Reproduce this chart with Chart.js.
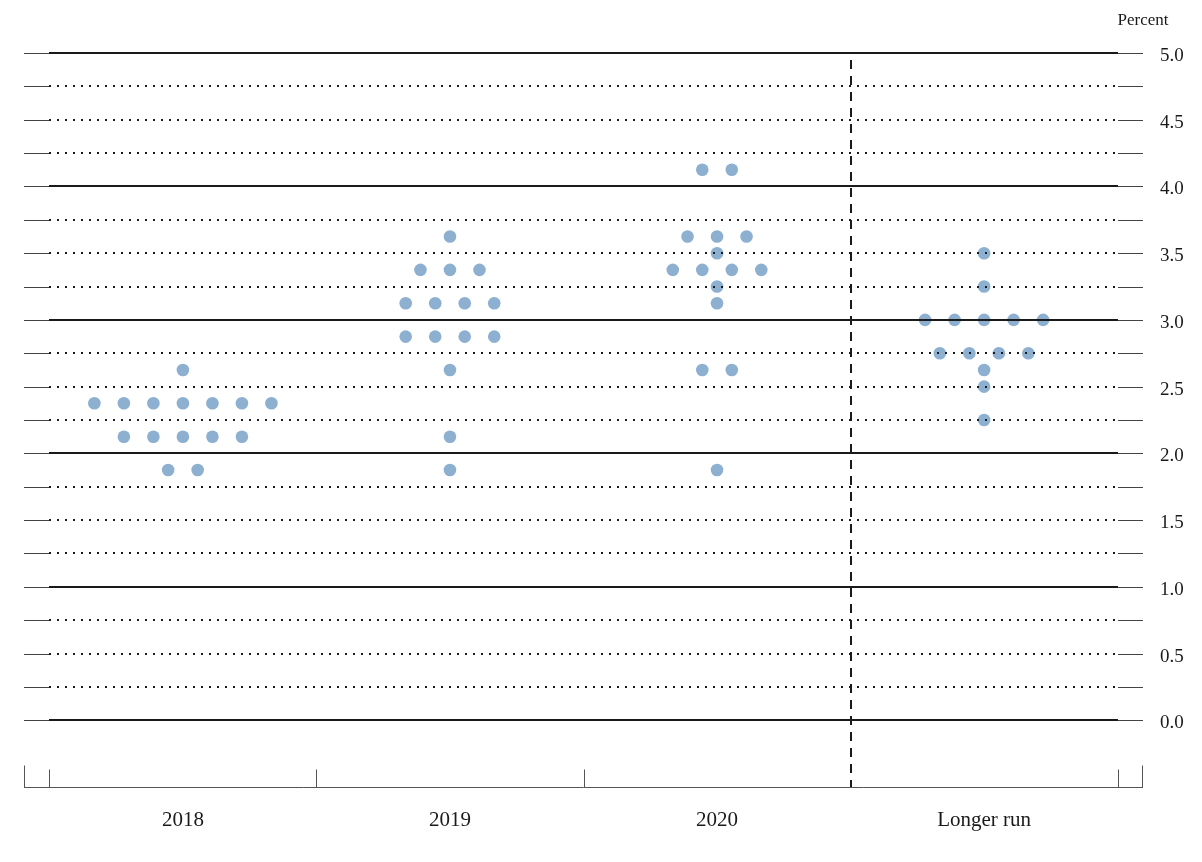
<!DOCTYPE html>
<html>
<head>
<meta charset="utf-8">
<script src="https://cdn.jsdelivr.net/npm/chart.js@4.4.0/dist/chart.umd.min.js"></script>
<style>
html,body{margin:0;padding:0;background:#fff;}
#wrap{width:1202px;height:862px;}
</style>
</head>
<body>
<div id="wrap"><canvas id="c" width="1202" height="862"></canvas></div>
<script>
// ---- Data ----
const categories = ['2018', '2019', '2020', 'Longer run'];
const projections2018 = [2.625,
  2.375, 2.375, 2.375, 2.375, 2.375, 2.375, 2.375,
  2.125, 2.125, 2.125, 2.125, 2.125,
  1.875, 1.875];
const projections2019 = [3.625,
  3.375, 3.375, 3.375,
  3.125, 3.125, 3.125, 3.125,
  2.875, 2.875, 2.875, 2.875,
  2.625, 2.125, 1.875];
const projections2020 = [4.125, 4.125,
  3.625, 3.625, 3.625,
  3.5,
  3.375, 3.375, 3.375, 3.375,
  3.25, 3.125,
  2.625, 2.625,
  1.875];
const projectionsLonger = [3.5, 3.25,
  3.0, 3.0, 3.0, 3.0, 3.0,
  2.75, 2.75, 2.75, 2.75,
  2.625, 2.5, 2.25];
const yTickLabels = [0.0, 0.5, 1.0, 1.5, 2.0, 2.5, 3.0, 3.5, 4.0, 4.5, 5.0];
const gridLevels = [0, 0.25, 0.5, 0.75, 1, 1.25, 1.5, 1.75, 2, 2.25, 2.5, 2.75,
  3, 3.25, 3.5, 3.75, 4, 4.25, 4.5, 4.75, 5];

// ---- Layout helpers ----
const DOT_STEP = 0.1105; // horizontal spacing between dots, in category units
function swarm(values, center) {
  const groups = new Map();
  values.forEach(v => { if (!groups.has(v)) groups.set(v, 0); groups.set(v, groups.get(v) + 1); });
  const pts = [];
  groups.forEach((n, v) => {
    for (let i = 0; i < n; i++) pts.push({ x: center + (i - (n - 1) / 2) * DOT_STEP, y: v });
  });
  return pts;
}

const allSeries = [projections2018, projections2019, projections2020, projectionsLonger];
const DOT_COLOR = '#8db0d1';
const TEXT = '#1a1a1a';
const SERIF = '"Liberation Serif", "Times New Roman", serif';

const decor = {
  id: 'decor',
  afterDatasetsDraw(chart) {
    const ctx = chart.ctx;
    const { left, right, top, bottom } = chart.chartArea;
    const xs = chart.scales.x, ys = chart.scales.y;
    const innerL = Math.round(xs.getPixelForValue(0));
    const innerR = Math.round(xs.getPixelForValue(4));
    ctx.save();
    gridLevels.forEach(v => {
      const y = Math.round(ys.getPixelForValue(v));
      const major = Number.isInteger(v);
      // thin ends
      ctx.setLineDash([]);
      ctx.strokeStyle = '#444';
      ctx.lineWidth = 1;
      ctx.beginPath();
      ctx.moveTo(left, y + 0.5); ctx.lineTo(innerL, y + 0.5);
      ctx.moveTo(innerR, y + 0.5); ctx.lineTo(right, y + 0.5);
      ctx.stroke();
      ctx.strokeStyle = '#1a1a1a';
      ctx.lineWidth = 2;
      if (!major) ctx.setLineDash([2, 6]);
      ctx.beginPath();
      ctx.moveTo(innerL, y); ctx.lineTo(innerR, y);
      ctx.stroke();
    });
    // bottom axis line
    ctx.setLineDash([]);
    ctx.strokeStyle = '#555';
    ctx.lineWidth = 1;
    const by = Math.round(bottom) + 0.5;
    ctx.beginPath();
    ctx.moveTo(left, by); ctx.lineTo(right, by);
    ctx.stroke();
    // tick marks
    const tick = (px, len) => {
      const x = Math.round(px) + 0.5;
      ctx.beginPath(); ctx.moveTo(x, by); ctx.lineTo(x, by - len); ctx.stroke();
    };
    tick(left, 22); tick(right - 1, 22);
    [0, 1, 2, 4].forEach(v => tick(xs.getPixelForValue(v), 18));
    // dashed separator
    const sx = Math.round(xs.getPixelForValue(3));
    ctx.strokeStyle = '#1a1a1a';
    ctx.lineWidth = 2;
    ctx.setLineDash([9, 7]);
    ctx.lineDashOffset = 9;
    ctx.beginPath();
    ctx.moveTo(sx, top); ctx.lineTo(sx, bottom);
    ctx.stroke();
    // unit label
    ctx.setLineDash([]);
    ctx.fillStyle = TEXT;
    ctx.font = '17px ' + SERIF;
    ctx.textAlign = 'center';
    ctx.textBaseline = 'middle';
    ctx.fillText('Percent', right, 21);
    ctx.restore();
  }
};

new Chart(document.getElementById('c'), {
  type: 'scatter',
  data: {
    datasets: allSeries.map((vals, i) => ({
      label: categories[i],
      data: swarm(vals, i + 0.5),
      pointRadius: 6.3,
      pointHoverRadius: 6.3,
      pointBackgroundColor: DOT_COLOR,
      pointBorderWidth: 0,
      borderWidth: 0,
      showLine: false
    }))
  },
  options: {
    responsive: false,
    animation: false,
    devicePixelRatio: 1,
    events: [],
    layout: { padding: { left: 24, top: 53, right: 0, bottom: 0 } },
    plugins: { legend: { display: false }, tooltip: { enabled: false }, title: { display: false } },
    scales: {
      x: {
        type: 'linear',
        position: 'bottom',
        min: -0.095,
        max: 4.095,
        grid: { display: false, drawTicks: false },
        border: { display: false },
        afterBuildTicks: s => { s.ticks = categories.map((c, i) => ({ value: i + 0.5 })); },
        afterFit: s => { s.height = 75; },
        ticks: {
          autoSkip: false,
          maxRotation: 0,
          padding: 21,
          color: TEXT,
          font: { family: SERIF, size: 21 },
          callback: v => categories[Math.round(v - 0.5)]
        }
      },
      y: {
        type: 'linear',
        position: 'right',
        min: -0.5,
        max: 5,
        grid: { display: false, drawTicks: false },
        border: { display: false },
        afterBuildTicks: s => { s.ticks = yTickLabels.map(v => ({ value: v })); },
        afterFit: s => { s.width = 59; },
        ticks: {
          padding: 17,
          labelOffset: 3,
          color: TEXT,
          font: { family: SERIF, size: 19 },
          callback: v => Number(v).toFixed(1)
        }
      }
    }
  },
  plugins: [decor]
});
</script>
</body>
</html>
